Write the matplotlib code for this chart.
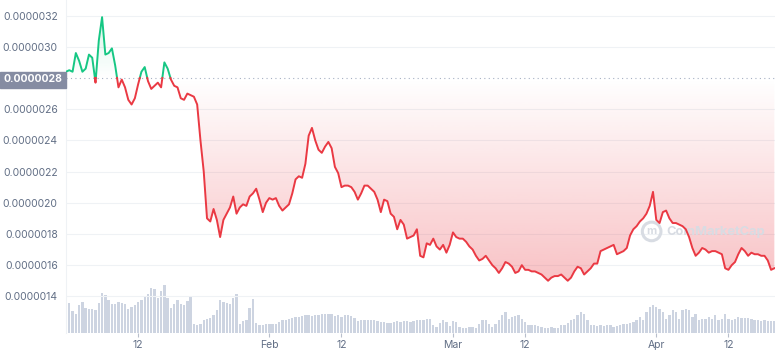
import numpy as np
import pandas as pd
import matplotlib
matplotlib.use("Agg")
import matplotlib.pyplot as plt
import matplotlib.dates as mdates
from matplotlib.path import Path
from matplotlib.patches import Rectangle

# price sampled every 12 hours from 1 Jan, in units of 1e-7
price_e7 = [
    28.4, 28.5, 28.4, 29.6, 29.1, 28.4, 28.6, 29.5, 29.3, 27.7,
    30.4, 31.9, 29.5, 29.6, 29.9, 28.8, 27.4, 27.9, 27.4, 26.6,
    26.3, 26.7, 27.6, 28.4, 28.7, 27.8, 27.3, 27.5, 27.7, 27.4,
    29.0, 28.6, 27.9, 27.5, 27.4, 26.7, 26.6,
    27.0, 26.9, 26.8, 26.3, 24.0, 22.0, 19.0, 18.8, 19.6, 18.9,
    17.8, 18.9, 19.3, 19.7, 20.4, 19.3, 19.7, 19.9, 19.8, 20.4,
    20.6, 20.9, 20.2, 19.4, 20.0, 20.3, 20.2, 20.3, 19.8, 19.5,
    19.7, 19.9, 20.6,
    21.5, 21.7, 21.6, 22.5, 24.3, 24.8, 24.0, 23.4, 23.2, 23.6,
    23.9, 23.5, 22.3, 21.9, 21.0, 21.1, 21.1, 21.0, 20.7, 20.2,
    20.6, 21.1, 21.1, 20.9, 20.7, 20.2, 19.4, 20.2, 20.1, 19.3,
    19.1, 18.3, 18.9, 18.6,
    17.7, 17.8, 17.9, 18.3, 16.6, 16.5, 17.4, 17.3, 17.7, 17.2,
    17.0, 17.3, 16.8, 17.3, 18.1, 17.8, 17.7, 17.7, 17.5, 17.2,
    17.0, 16.6, 16.3, 16.4, 16.6, 16.3, 16.0, 15.8, 15.5, 15.8,
    16.2, 16.1, 15.9, 15.5, 15.6,
    16.0, 15.7, 15.7, 15.6, 15.6, 15.5, 15.4, 15.2, 15.0, 15.2,
    15.3, 15.3, 15.4, 15.2, 15.0, 15.2, 15.6, 15.9, 15.8, 15.4,
    15.6, 15.8, 16.1, 16.1, 16.9, 17.0, 17.1, 17.2, 17.3, 16.7,
    16.8, 16.9, 17.1, 17.9, 18.3,
    18.5, 18.8, 19.0, 19.3, 19.8, 20.7, 18.9, 18.7, 19.4, 19.5,
    19.0, 18.7, 18.7, 18.6, 18.5, 18.3, 17.8, 17.1, 16.6, 16.8,
    17.1, 17.0, 16.8, 16.9, 16.9, 16.8, 16.7, 15.8, 15.7, 16.0,
    16.2, 16.7, 17.1, 16.9, 16.6, 16.8, 16.7, 16.7, 16.6, 16.6,
    16.3, 15.7, 15.8,
]

# volume, same 12 hour steps (arbitrary units)
volume = [
    34, 30, 22, 19, 28, 31, 25, 24, 24, 23, 30, 40, 38, 33, 29, 29, 31, 30, 29, 24,
    26, 28, 31, 33, 36, 39, 45, 44, 35, 42, 48, 35, 25, 29, 33, 29, 28, 32, 36, 9,
    8, 9, 13, 14, 15, 18, 23, 33, 31, 30, 29, 35, 39, 9, 12, 13, 25, 34, 10, 8,
    8, 9, 9, 9, 9, 11, 13, 13, 14, 15, 16, 16, 17, 18, 18, 17, 18, 18, 19, 19,
    19, 19, 17, 18, 16, 18, 18, 17, 15, 12, 13, 13, 13, 13, 13, 12, 11, 11, 10, 10,
    11, 12, 11, 12, 12, 11, 12, 13, 13, 13, 14, 14, 8, 6, 10, 13, 11, 7, 12, 11,
    6, 5, 5, 6, 6, 5, 9, 13, 13, 9, 6, 9, 13, 18, 21, 14, 16, 17, 18, 14,
    11, 8, 8, 8, 7, 6, 5, 5, 6, 5, 5, 8, 8, 10, 13, 14, 18, 21, 19, 13,
    8, 8, 7, 8, 7, 8, 8, 6, 7, 8, 9, 9, 10, 11, 13, 16, 13, 21, 26, 28,
    26, 24, 21, 14, 18, 23, 21, 14, 23, 24, 23, 16, 19, 13, 14, 14, 16, 14, 18, 13,
    14, 19, 14, 13, 14, 16, 15, 15, 15, 14, 13, 13, 12, 13, 12, 12, 12,
]

base_e7 = 28.0
ytick_e7 = [32, 30, 26, 24, 22, 20, 18, 16, 14]
xtick_dates = ["2022-01-12", "2022-02-01", "2022-02-12", "2022-03-01",
               "2022-03-12", "2022-04-01", "2022-04-12"]
xtick_labels = ["12", "Feb", "12", "Mar", "12", "Apr", "12"]

green = "#16c784"
red = "#ea3943"
grey = "#616e85"

plt.rcParams['font.family'] = ['Inter', 'DejaVu Sans']

t = pd.date_range("2022-01-01", periods=len(price_e7), freq="12h")
x = mdates.date2num(t)
p = np.array(price_e7) * 1e-7
base = base_e7 * 1e-7

# add points where the line crosses the baseline so colours switch cleanly
xs, ps = [x[0]], [p[0]]
for i in range(1, len(x)):
    a, b = p[i - 1] - base, p[i] - base
    if a * b < 0:
        f = a / (a - b)
        xs.append(x[i - 1] + f * (x[i] - x[i - 1]))
        ps.append(base)
    xs.append(x[i])
    ps.append(p[i])
xs = np.array(xs)
ps = np.array(ps)

fig = plt.figure(figsize=(7.75, 3.56), dpi=100)
fig.patch.set_facecolor("white")
ax = fig.add_axes([66 / 775, 23 / 356, 709 / 775, 333 / 356])
ax2 = ax.twinx()

x0 = x[0]
x1 = x[0] + 108.1
ymin, ymax = 11.65e-7, 33.0e-7

# volume bars
tv = mdates.date2num(pd.date_range("2022-01-01", periods=len(volume), freq="12h"))
ax2.bar(tv, volume, width=0.36, color="#cdd4e1", linewidth=0)
ax2.set_ylim(0, 335)
ax2.set_yticks([])
for s in ax2.spines.values():
    s.set_visible(False)

ax.set_zorder(ax2.get_zorder() + 1)
ax.patch.set_visible(False)

# gradient fills
n = 256
red_img = np.zeros((n, 1, 4))
red_img[..., 0:3] = matplotlib.colors.to_rgb(red)
red_img[:, 0, 3] = np.linspace(0.32, 0.0, n)
fr = ax.fill_between(xs, ps, base, where=ps <= base, facecolor="none", edgecolor="none")
im = ax.imshow(red_img, extent=[x0, x1, 14.5e-7, base], origin="lower",
               aspect="auto", zorder=1, interpolation="bilinear")
im.set_clip_path(Path.make_compound_path(*fr.get_paths()), ax.transData)

green_img = np.zeros((n, 1, 4))
green_img[..., 0:3] = matplotlib.colors.to_rgb(green)
green_img[:, 0, 3] = np.linspace(0.0, 0.18, n)
fg = ax.fill_between(xs, ps, base, where=ps >= base, facecolor="none", edgecolor="none")
img = ax.imshow(green_img, extent=[x0, x1, base, 32e-7], origin="lower",
                aspect="auto", zorder=1, interpolation="bilinear")
img.set_clip_path(Path.make_compound_path(*fg.get_paths()), ax.transData)

# price line
ax.plot(xs, np.where(ps >= base, ps, np.nan), color=green, lw=1.4, zorder=4)
ax.plot(xs, np.where(ps <= base, ps, np.nan), color=red, lw=1.4, zorder=4)
ax.axhline(base, color="#a6b0c3", lw=0.8, ls=(0, (1, 3)), zorder=3)

# watermark
ax.scatter([0.826], [0.305], transform=ax.transAxes, s=180, facecolors="none",
           edgecolors="#d8dce3", linewidths=2.2, zorder=2)
ax.text(0.826, 0.305, "m", transform=ax.transAxes, ha="center", va="center",
        fontsize=8, color="#d8dce3", fontweight="bold", zorder=2)
ax.text(0.847, 0.305, "CoinMarketCap", transform=ax.transAxes, ha="left", va="center",
        fontsize=9.3, color="#d8dce3", fontweight="bold", zorder=2)

ax.set_xlim(x0, x1)
ax.set_ylim(ymin, ymax)
ax.set_yticks(np.array(ytick_e7) * 1e-7)
ax.set_yticklabels([f"{v * 1e-7:.7f}" for v in ytick_e7])
ax.grid(axis="y", color="#eff2f5", lw=0.8)
ax.set_axisbelow(True)
ax.tick_params(axis="y", length=0, pad=6, labelsize=7.5, labelcolor=grey)

ax.set_xticks(mdates.date2num(pd.to_datetime(xtick_dates)))
ax.set_xticklabels(xtick_labels)
ax.tick_params(axis="x", length=3, width=0.8, color="#b8bfcc", pad=2,
               labelsize=7.5, labelcolor=grey)

for side in ["top", "right", "bottom"]:
    ax.spines[side].set_visible(False)
ax.spines["left"].set_color("#eff2f5")

# highlighted baseline label
fig.patches.append(Rectangle((0, (356 - 87.5) / 356), 66 / 775, 16 / 356,
                             transform=fig.transFigure, color="#858ca2", zorder=5))
fig.text(33 / 775, (356 - 79.5) / 356, f"{base:.7f}", color="white", ha="center",
         va="center", fontsize=7.5, fontweight="bold", zorder=6)

fig.savefig("out.png", dpi=100)
